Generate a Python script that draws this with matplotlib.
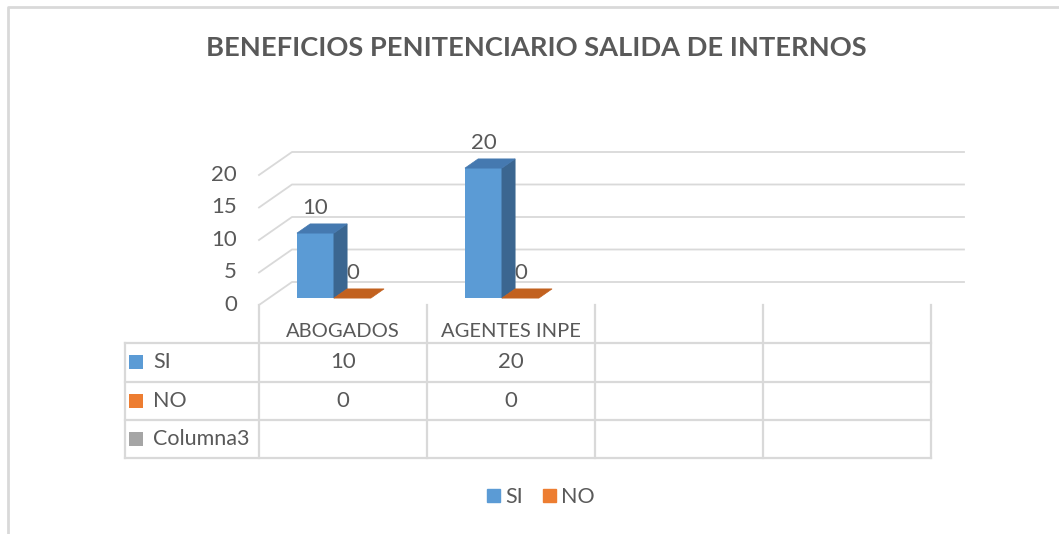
import matplotlib
matplotlib.use("Agg")
import matplotlib.pyplot as plt
from matplotlib.patches import Polygon, Patch
from matplotlib.lines import Line2D

# data
categories = ["ABOGADOS", "AGENTES INPE", "", ""]
si = [10, 20, None, None]
no = [0, 0, None, None]
columna3 = [None, None, None, None]
series_names = ["SI", "NO", "Columna3"]
yticks = [0, 5, 10, 15, 20]
title = "BENEFICIOS PENITENCIARIO SALIDA DE INTERNOS"

BLUE, ORANGE, GRAY = "#5B9BD5", "#ED7D31", "#A5A5A5"
BLUE_TOP, BLUE_SIDE = "#4579B0", "#3B6690"
ORANGE_TOP = "#C2611F"
TEXT = "#595959"
GRID = "#D9D9D9"

plt.rcParams["font.family"] = ["Lato", "DejaVu Sans"]

W, H = 1059, 534
fig = plt.figure(figsize=(W / 100, H / 100), dpi=100)


def px_box(x0, y0, x1, y1):
    """pixel box (top-left origin) -> figure fraction rect"""
    return [x0 / W, 1 - y1 / H, (x1 - x0) / W, (y1 - y0) / H]


# front plane of the 3D plot area
ax = fig.add_axes(px_box(259, 175, 931, 305))
ax.set_xlim(0, len(categories))
ax.set_ylim(0, 20)
ax.axis("off")

# oblique depth: one full depth step, in data units
DX = 33 / 168
DY = 23 / 6.5
Z0, DEPTH = 0.3, 0.4       # bar front plane and bar thickness
BAR_W = 0.22
GROUP_C = 0.387            # pair centre inside a category


def P(x, y, z):
    return (x + z * DX, y + z * DY)


def poly(pts, color, zorder):
    ax.add_patch(Polygon(pts, closed=True, facecolor=color, edgecolor=color,
                         lw=0.5, zorder=zorder, clip_on=False))


# walls / gridlines
for v in yticks:
    a, b, c = P(0, v, 0), P(0, v, 1), P(len(categories), v, 1)
    ax.plot([a[0], b[0], c[0]], [a[1], b[1], c[1]], color=GRID, lw=1.3,
            clip_on=False, zorder=1)
    ax.annotate(str(v), xy=a, xytext=(-22, 0), textcoords="offset pixels",
                ha="right", va="center", fontsize=16, color=TEXT,
                annotation_clip=False)


def bar3d(x0, h, front, top, side):
    x1 = x0 + BAR_W
    z1 = Z0 + DEPTH
    ax.bar(x0 + Z0 * DX, h, width=BAR_W, bottom=Z0 * DY, align="edge",
           color=front, zorder=3, clip_on=False)
    if h > 0:
        poly([P(x1, 0, Z0), P(x1, h, Z0), P(x1, h, z1), P(x1, 0, z1)], side, 3)
    poly([P(x0, h, Z0), P(x1, h, Z0), P(x1, h, z1), P(x0, h, z1)], top, 3)
    ax.annotate(str(h), xy=P(x0 + BAR_W / 2, h, Z0), xytext=(0, 25),
                textcoords="offset pixels", ha="center", va="center",
                fontsize=16, color=TEXT, zorder=2, annotation_clip=False)


for i in range(len(categories)):
    if si[i] is not None:
        bar3d(i + GROUP_C - BAR_W, si[i], BLUE, BLUE_TOP, BLUE_SIDE)
    if no[i] is not None:
        bar3d(i + GROUP_C, no[i], ORANGE, ORANGE_TOP, ORANGE_TOP)

# data table
tab = fig.add_axes(px_box(125, 305, 931, 458))
LBL = -0.8
tab.set_xlim(LBL, len(categories))
tab.set_ylim(4, 0)
tab.axis("off")
kw = dict(color=GRID, lw=1.6, clip_on=False)
for k in range(len(categories) + 1):
    tab.plot([k, k], [0, 4], **kw)
tab.plot([LBL, LBL], [1, 4], **kw)
for r in range(1, 5):
    tab.plot([LBL, len(categories)], [r, r], **kw)

for i, c in enumerate(categories):
    tab.text(i + 0.5, 0.7, c, ha="center", va="center", fontsize=14.5,
             color=TEXT)

rows = [si, no, columna3]
colors = [BLUE, ORANGE, GRAY]
for r, (name, vals, col) in enumerate(zip(series_names, rows, colors)):
    y = r + 1.5
    tab.plot([LBL + 11 / 168], [y], marker="s", ms=9.5, mew=0, color=col,
             ls="none", clip_on=False)
    tab.text(LBL + 28 / 168, y, name, ha="left", va="center", fontsize=15.5,
             color=TEXT)
    for i, v in enumerate(vals):
        if v is not None:
            tab.text(i + 0.5, y, str(v), ha="center", va="center",
                     fontsize=16, color=TEXT)

# title
fig.text(536.5 / W, 1 - 48 / H, title, ha="center", va="center",
         fontsize=19.6, fontweight="bold", color=TEXT)

# legend
fig.legend(handles=[Patch(color=BLUE, label="SI"), Patch(color=ORANGE, label="NO")],
           loc="center", bbox_to_anchor=(541 / W, 1 - 497 / H), ncol=2,
           frameon=False, fontsize=15.5, handlelength=0.6, handleheight=0.6,
           handletextpad=0.25, columnspacing=0.9, labelcolor=TEXT)

# chart border (only top and left show)
fig.add_artist(Line2D([8 / W, 8 / W, 1], [0, 1 - 7 / H, 1 - 7 / H],
                      transform=fig.transFigure, color=GRID, lw=2))

fig.savefig("out.png", dpi=100)
